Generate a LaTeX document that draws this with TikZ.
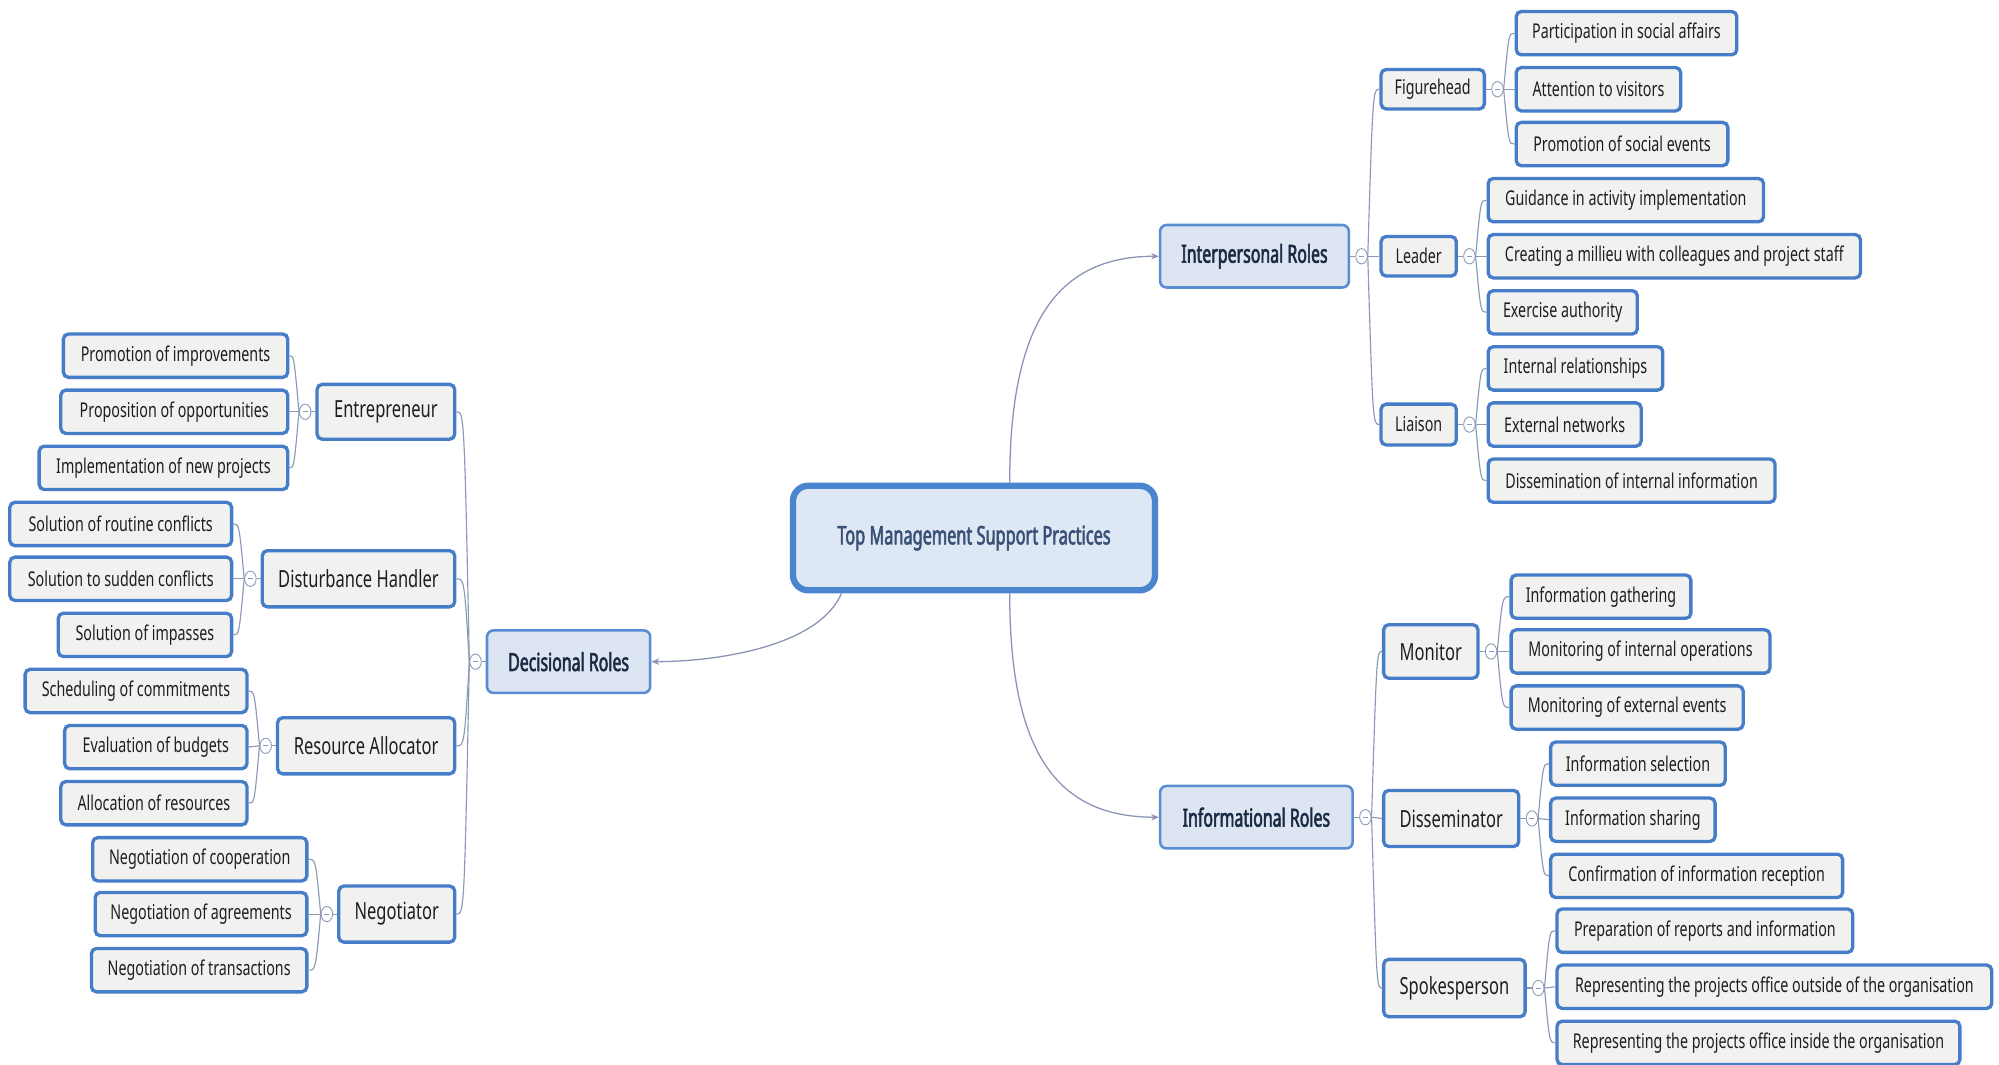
\documentclass[tikz,border=0pt]{standalone}
\usepackage{fontspec}
\setmainfont{Noto Sans}[FakeStretch=0.70]
\newfontfamily\headfont{Noto Sans}[FakeStretch=0.64, FakeBold=2.2]
\usetikzlibrary{arrows.meta,shapes.geometric}

\definecolor{boxblue}{HTML}{467DC8}
\definecolor{leaffill}{HTML}{F1F1F0}
\definecolor{leaftext}{HTML}{1E1E1E}
\definecolor{roleblue}{HTML}{5A8CD2}
\definecolor{rolefill}{HTML}{DCE5F1}
\definecolor{roletext}{HTML}{1B2B45}
\definecolor{hubblue}{HTML}{4A85D0}
\definecolor{hubfill}{HTML}{DEE8F5}
\definecolor{hubtext}{HTML}{3A5077}
\definecolor{linkgray}{HTML}{8A93B5}
\definecolor{twiggray}{HTML}{8C9AB8}

\tikzset{
  box/.style={draw=boxblue, line width=2.6pt, fill=leaffill, rounded corners=4pt,
    inner sep=0pt, text=leaftext, font=\fontsize{16}{18}\selectfont},
  leaf/.style={box, minimum height=34pt},
  sub/.style={box, minimum height=31pt},
  subbig/.style={box, minimum height=44pt, font=\fontsize{18.5}{20}\selectfont},
  role/.style={draw=roleblue, line width=2pt, fill=rolefill, rounded corners=5pt,
    minimum height=49pt, inner sep=0pt, text=roletext,
    font=\headfont\fontsize{19.5}{22}\selectfont},
  hub/.style={draw=hubblue, line width=5pt, fill=hubfill, rounded corners=12pt,
    minimum width=284pt, minimum height=82pt, inner sep=0pt, text=hubtext,
    font=\headfont\fontsize{20}{22}\selectfont},
  knob/.style={ellipse, draw=twiggray, line width=0.7pt, fill=white,
    minimum width=9pt, minimum height=12pt, inner sep=0pt,
    path picture={\draw[twiggray, line width=0.6pt]
      ([xshift=-2pt]path picture bounding box.center) --
      ([xshift=2pt]path picture bounding box.center);}},
  twig/.style={draw=twiggray, line width=0.9pt},
  link/.style={draw=linkgray, line width=1pt, -{Stealth[length=6pt,width=5pt]}},
}

% branch to the right: from knob #1 to child #2
\newcommand\rtwig[2]{\draw[twig] (#1.east) .. controls ([xshift=4pt]#1.east |- #2.west) .. (#2.west);}
% branch to the left: from knob #1 to child #2
\newcommand\ltwig[2]{\draw[twig] (#1.west) .. controls ([xshift=-4pt]#1.west |- #2.east) .. (#2.east);}

\begin{document}
\begin{tikzpicture}[x=1pt,y=-1pt]
\useasboundingbox[fill=white] (0,0) rectangle (1568,835);

% central topic
\node[hub] (top) at (764,422) {Top Management Support Practices};

% main roles
\node[role, minimum width=148pt, anchor=west] (ip)  at (909,201) {Interpersonal Roles};
\node[role, minimum width=151pt, anchor=west] (inf) at (909,641) {Informational Roles};
\node[role, minimum width=128pt, anchor=east] (dec) at (511,519) {Decisional Roles};

\draw[link] ([xshift=28pt]top.north) .. controls +(0,-125) and +(-80,0) .. (ip.west);
\draw[link] ([xshift=28pt]top.south) .. controls +(0,125) and +(-80,0) .. (inf.west);
\draw[link] ([xshift=-104pt]top.south) .. controls +(-18,42) and +(50,0) .. (dec.east);

% interpersonal branch
\node[sub, minimum width=81pt, anchor=west] (fh) at (1082,70) {Figurehead};
\node[sub, minimum width=59pt, anchor=west] (ld) at (1082,201) {Leader};
\node[sub, minimum width=59pt, anchor=west, minimum height=32pt] (li) at (1082,333) {Liaison};

\node[leaf, minimum width=173pt, anchor=west] (fh1) at (1188,26) {Participation in social affairs};
\node[leaf, minimum width=129pt, anchor=west] (fh2) at (1188,70) {Attention to visitors};
\node[leaf, minimum width=166pt, anchor=west] (fh3) at (1188,113) {Promotion of social events};
\node[leaf, minimum width=216pt, anchor=west] (ld1) at (1166,157) {Guidance in activity implementation};
\node[leaf, minimum width=292pt, anchor=west] (ld2) at (1166,201) {Creating a millieu with colleagues and project staff};
\node[leaf, minimum width=117pt, anchor=west] (ld3) at (1166,245) {Exercise authority};
\node[leaf, minimum width=137pt, anchor=west] (li1) at (1166,289) {Internal relationships};
\node[leaf, minimum width=120pt, anchor=west] (li2) at (1166,333) {External networks};
\node[leaf, minimum width=225pt, anchor=west] (li3) at (1166,377) {Dissemination of internal information};

% informational branch
\node[subbig, minimum width=74pt, minimum height=42pt, anchor=west] (mo) at (1084,511) {Monitor};
\node[subbig, minimum width=106pt, anchor=west] (ds) at (1084,642) {Disseminator};
\node[subbig, minimum width=111pt, minimum height=45pt, anchor=west] (sp) at (1084,775) {Spokesperson};

\node[leaf, minimum width=141pt, anchor=west] (mo1) at (1184,468) {Information gathering};
\node[leaf, minimum width=203pt, anchor=west] (mo2) at (1184,511) {Monitoring of internal operations};
\node[leaf, minimum width=182pt, anchor=west] (mo3) at (1184,555) {Monitoring of external events};
\node[leaf, minimum width=137pt, anchor=west] (ds1) at (1215,599) {Information selection};
\node[leaf, minimum width=129pt, anchor=west] (ds2) at (1215,643) {Information sharing};
\node[leaf, minimum width=229pt, anchor=west] (ds3) at (1215,687) {Confirmation of information reception};
\node[leaf, minimum width=232pt, anchor=west] (sp1) at (1220,730) {Preparation of reports and information};
\node[leaf, minimum width=341pt, anchor=west] (sp2) at (1220,774) {Representing the projects office outside of the organisation};
\node[leaf, minimum width=316pt, anchor=west] (sp3) at (1220,818) {Representing the projects office inside the organisation};

% decisional branch
\node[subbig, minimum width=108pt, minimum height=43pt, anchor=east] (en) at (358,323) {Entrepreneur};
\node[subbig, minimum width=151pt, anchor=east] (dh) at (358,454) {Disturbance Handler};
\node[subbig, minimum width=139pt, anchor=east] (ra) at (358,585) {Resource Allocator};
\node[subbig, minimum width=91pt, anchor=east] (ng) at (358,717) {Negotiator};

\node[leaf, minimum width=176pt, anchor=east] (en1) at (227,279) {Promotion of improvements};
\node[leaf, minimum width=178pt, anchor=east] (en2) at (227,323) {Proposition of opportunities};
\node[leaf, minimum width=195pt, anchor=east] (en3) at (227,367) {Implementation of new projects};
\node[leaf, minimum width=174pt, anchor=east] (dh1) at (183,411) {Solution of routine conflicts};
\node[leaf, minimum width=174pt, anchor=east] (dh2) at (183,454) {Solution to sudden conflicts};
\node[leaf, minimum width=136pt, anchor=east] (dh3) at (183,498) {Solution of impasses};
\node[leaf, minimum width=174pt, anchor=east] (ra1) at (195,542) {Scheduling of commitments};
\node[leaf, minimum width=143pt, anchor=east] (ra2) at (195,586) {Evaluation of budgets};
\node[leaf, minimum width=146pt, anchor=east] (ra3) at (195,630) {Allocation of resources};
\node[leaf, minimum width=168pt, anchor=east] (ng1) at (242,674) {Negotiation of cooperation};
\node[leaf, minimum width=166pt, anchor=east] (ng2) at (242,717) {Negotiation of agreements};
\node[leaf, minimum width=169pt, anchor=east] (ng3) at (242,761) {Negotiation of transactions};

% collapse knobs and their stubs (right side)
\foreach \p in {ip,inf,fh,ld,li,mo,ds,sp}{
  \node[knob] (k\p) at ([xshift=9pt]\p.east) {};
  \draw[twig] (\p.east) -- (k\p.west);
}
% collapse knobs and their stubs (left side)
\foreach \p in {dec,en,dh,ra,ng}{
  \node[knob] (k\p) at ([xshift=-8pt]\p.west) {};
  \draw[twig] (\p.west) -- (k\p.east);
}

% right-side branches
\foreach \c in {fh,ld,li}{\rtwig{kip}{\c}}
\foreach \c in {mo,ds,sp}{\rtwig{kinf}{\c}}
\foreach \p in {fh,ld,li,mo,ds,sp}{
  \foreach \i in {1,2,3}{\rtwig{k\p}{\p\i}}
}
% left-side branches
\foreach \c in {en,dh,ra,ng}{\ltwig{kdec}{\c}}
\foreach \p in {en,dh,ra,ng}{
  \foreach \i in {1,2,3}{\ltwig{k\p}{\p\i}}
}
\end{tikzpicture}
\end{document}
